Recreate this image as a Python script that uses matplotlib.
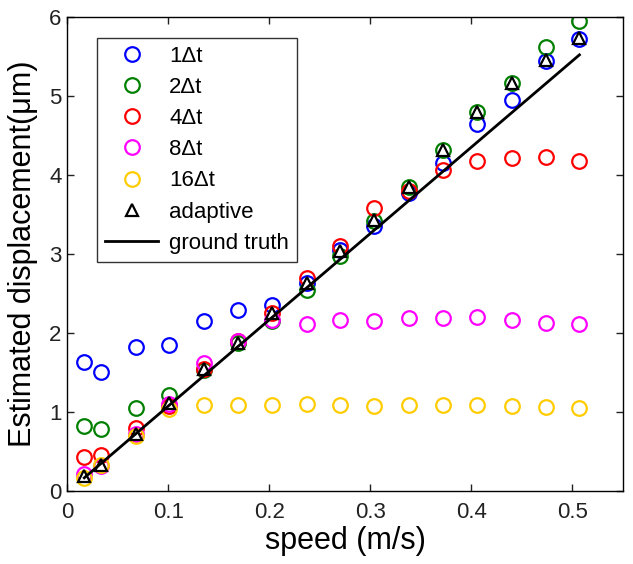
import matplotlib
matplotlib.use("Agg")
import matplotlib.pyplot as plt

speed = [0.017, 0.034, 0.068, 0.101, 0.135, 0.169, 0.203, 0.237, 0.270, 0.304,
         0.338, 0.372, 0.406, 0.440, 0.474, 0.507]
d1 = [1.63, 1.51, 1.82, 1.85, 2.15, 2.29, 2.36, 2.64, 3.05, 3.35, 3.77, 4.15, 4.65, 4.95, 5.44, 5.72]
d2 = [0.82, 0.79, 1.05, 1.22, 1.53, 1.88, 2.15, 2.55, 2.97, 3.42, 3.85, 4.32, 4.80, 5.17, 5.62, 5.95]
d4 = [0.43, 0.46, 0.80, 1.08, 1.55, 1.90, 2.25, 2.70, 3.10, 3.58, 3.80, 4.06, 4.18, 4.22, 4.23, 4.18]
d8 = [0.22, 0.32, 0.72, 1.10, 1.62, 1.90, 2.16, 2.12, 2.17, 2.15, 2.19, 2.19, 2.20, 2.16, 2.13, 2.12]
d16 = [0.17, 0.33, 0.70, 1.04, 1.09, 1.09, 1.09, 1.10, 1.09, 1.08, 1.09, 1.09, 1.09, 1.08, 1.07, 1.05]
adaptive = [0.19, 0.33, 0.72, 1.12, 1.55, 1.88, 2.25, 2.64, 3.04, 3.43, 3.85, 4.32, 4.80, 5.17, 5.45, 5.73]
truth_x = [0.017, 0.507]
truth_y = [0.17, 5.52]

labels = ["1\u0394t", "2\u0394t", "4\u0394t", "8\u0394t", "16\u0394t"]
colors = ["#0000FF", "#008000", "#FF0000", "#FF00FF", "#FFCC00"]

plt.rcParams['font.family'] = ['Liberation Sans', 'DejaVu Sans']

fig = plt.figure(figsize=(6.33, 5.64), dpi=100)
ax = fig.add_axes([0.106, 0.129, 0.878, 0.841])

for d, lab, c in zip([d1, d2, d4, d8, d16], labels, colors):
    ax.plot(speed, d, linestyle='none', marker='o', markersize=10.5,
            markerfacecolor='none', markeredgecolor=c, markeredgewidth=1.6, label=lab)
ax.plot(speed, adaptive, linestyle='none', marker='^', markersize=8,
        markerfacecolor='white', markeredgecolor='black', markeredgewidth=1.6, label='adaptive')
ax.plot(truth_x, truth_y, color='black', linewidth=2, label='ground truth')

ax.set_xlim(0, 0.55)
ax.set_ylim(0, 6)
ax.set_xticks([0, 0.1, 0.2, 0.3, 0.4, 0.5])
ax.set_xticklabels(['0', '0.1', '0.2', '0.3', '0.4', '0.5'])
ax.set_yticks([0, 1, 2, 3, 4, 5, 6])
ax.tick_params(direction='in', top=True, right=True, labelsize=16, length=5, width=1,
               colors='#222222')
ax.tick_params(axis='x', pad=8)
ax.tick_params(axis='y', pad=4)
for s in ax.spines.values():
    s.set_linewidth(1)
ax.set_xlabel('speed (m/s)', fontsize=22, labelpad=2)
ax.set_ylabel('Estimated displacement(\u03bcm)', fontsize=22, labelpad=8)

leg = ax.legend(loc='upper left', bbox_to_anchor=(0.054, 0.956), fontsize=16,
                frameon=True, fancybox=False, edgecolor='black', handlelength=2.4,
                handletextpad=0.5, labelspacing=0.46, borderpad=0.35, borderaxespad=0)
leg.get_frame().set_linewidth(1)

fig.savefig('out.png', dpi=100)
